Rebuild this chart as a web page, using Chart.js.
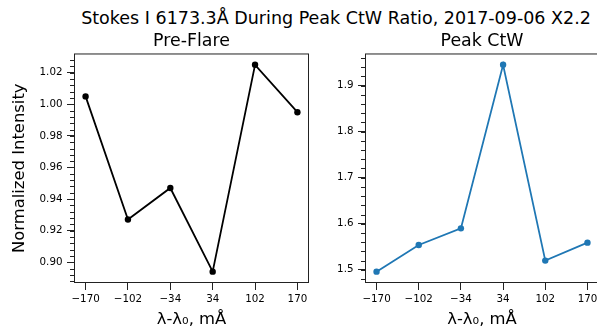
<!DOCTYPE html>
<html>
<head>
<meta charset="utf-8">
<script src="https://cdn.jsdelivr.net/npm/chart.js@4.4.0/dist/chart.umd.min.js"></script>
<style>
  html, body { margin: 0; padding: 0; background: #fff; overflow: hidden; }
  #fig { position: relative; width: 597px; height: 332px; overflow: hidden; font-family: 'DejaVu Sans', sans-serif; }
  #suptitle { position: absolute; left: 0; top: 8px; width: 672px; text-align: center; font-size: 17.5px; line-height: 20px; color: #000; white-space: nowrap; }
  canvas { position: absolute; top: 0; }
  #c-pre { left: 0; }
  #c-peak { left: 320px; }
</style>
</head>
<body>
<div id="fig">
  <div id="suptitle">Stokes I 6173.3Å During Peak CtW Ratio, 2017-09-06 X2.2</div>
  <canvas id="c-pre" width="320" height="332"></canvas>
  <canvas id="c-peak" width="290" height="332"></canvas>
</div>
<script>
// wavelength offsets, mÅ
const offsets = [-170, -102, -34, 34, 102, 170];
// normalized intensity
const preFlare = [1.005, 0.927, 0.947, 0.894, 1.025, 0.995];
const peakCtw  = [1.496, 1.554, 1.590, 1.945, 1.520, 1.559];
// y tick labels
const preTicks  = [0.90, 0.92, 0.94, 0.96, 0.98, 1.00, 1.02];
const peakTicks = [1.5, 1.6, 1.7, 1.8, 1.9];

Chart.defaults.font.family = "'DejaVu Sans', sans-serif";
Chart.defaults.color = '#000';

// box around the plot + unlabeled minor ticks on y
const frame = {
    id: 'frame',
    afterDraw(chart, args, opts) {
        const { ctx, chartArea: a } = chart;
        const y = chart.scales.y;
        ctx.save();
        ctx.strokeStyle = '#222';
        ctx.lineWidth = 1;
        ctx.strokeRect(a.left - 0.5, a.top - 0.5, a.right - a.left + 1, a.bottom - a.top + 1);
        ctx.beginPath();
        for (let i = Math.ceil(y.min / opts.minor); i * opts.minor <= y.max; i++) {
            const py = Math.round(y.getPixelForValue(i * opts.minor)) + 0.5;
            ctx.moveTo(a.left - 5, py);
            ctx.lineTo(a.left, py);
        }
        ctx.stroke();
        ctx.restore();
    },
};

// matplotlib-style 5% margins
const pad = (vals) => {
    const lo = Math.min(...vals), hi = Math.max(...vals), m = (hi - lo) * 0.05;
    return [lo - m, hi + m];
};

const makeChart = (id, values, yTicks, decimals, minor, color, yWidth, yTitle, title) => {
    const [ymin, ymax] = pad(values);
    const [xmin, xmax] = pad(offsets);
    return new Chart(document.getElementById(id), {
        type: 'line',
        data: {
            datasets: [{
                data: offsets.map((x, i) => ({ x, y: values[i] })),
                borderColor: color,
                backgroundColor: color,
                borderWidth: 1.8,
                pointRadius: 3.2,
                pointHoverRadius: 3.2,
                pointBorderWidth: 0,
                tension: 0,
            }],
        },
        options: {
            responsive: false,
            animation: false,
            events: [],
            layout: { padding: { top: 0, right: 12, bottom: 0, left: 0 } },
            plugins: {
                legend: { display: false },
                tooltip: { enabled: false },
                title: {
                    display: true,
                    fullSize: false, // centre over the plot box, not the canvas
                    text: title,
                    font: { size: 17.4, weight: 'normal' },
                    padding: { top: 30.8, bottom: 2.8 },
                },
                frame: { minor },
            },
            scales: {
                x: {
                    type: 'linear',
                    min: xmin,
                    max: xmax,
                    afterBuildTicks: (s) => { s.ticks = offsets.map(v => ({ value: v })); },
                    afterFit: (s) => { s.height = 50; },
                    ticks: {
                        font: { size: 10.3 },
                        padding: 3,
                        maxRotation: 0,
                        callback: (v) => String(v).replace('-', '\u2212'),
                    },
                    grid: { drawOnChartArea: false, tickLength: 8, color: '#222' },
                    border: { display: false },
                    title: {
                        display: true,
                        text: 'λ-λ₀, mÅ',
                        font: { size: 16.4 },
                        padding: { top: 0, bottom: 2 },
                    },
                },
                y: {
                    min: ymin,
                    max: ymax,
                    afterBuildTicks: (s) => { s.ticks = yTicks.map(v => ({ value: v })); },
                    afterFit: (s) => { s.width = yWidth; },
                    ticks: {
                        font: { size: 10.3 },
                        padding: 4.5,
                        callback: (v) => Number(v).toFixed(decimals),
                    },
                    grid: { drawOnChartArea: false, tickLength: 8, color: '#222' },
                    border: { display: false },
                    title: {
                        display: !!yTitle,
                        text: yTitle,
                        font: { size: 16.4 },
                        padding: { top: 10, bottom: 0 },
                    },
                },
            },
        },
        plugins: [frame],
    });
};

makeChart('c-pre', preFlare, preTicks, 2, 0.004, '#000000', 75, 'Normalized Intensity', 'Pre-Flare');
makeChart('c-peak', peakCtw, peakTicks, 1, 0.02, '#1f77b4', 46, '', 'Peak CtW');
</script>
</body>
</html>
